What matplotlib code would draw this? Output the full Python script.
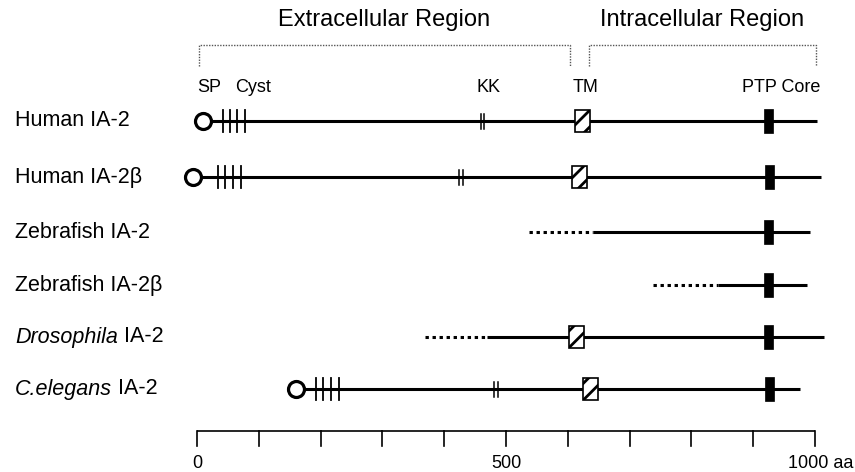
import matplotlib
matplotlib.use("Agg")
import matplotlib.pyplot as plt
from matplotlib.patches import Rectangle
import numpy as np

plt.rcParams['font.family'] = ['Liberation Sans', 'DejaVu Sans']
plt.rcParams['hatch.linewidth'] = 2.0

# ---------------- data (amino-acid positions) ----------------
species_italic = ["", "", "", "", "Drosophila", "C.elegans"]
species_rest = ["Human IA-2", "Human IA-2\u03b2", "Zebrafish IA-2", "Zebrafish IA-2\u03b2", " IA-2", " IA-2"]
solid_start = [10, -6, 641, 843, 470, 160]
seq_end = [1003, 1010, 992, 987, 1015, 976]
dotted_start = [np.nan, np.nan, 537, 738, 369, np.nan]
sp_pos = [10, -6, np.nan, np.nan, np.nan, 160]
cyst_pos = [[42, 53, 65, 78], [34, 45, 58, 71], [], [], [], [193, 204, 217, 230]]
kk_pos = [[459, 465], [424, 430], [], [], [], [481, 487]]
tm_center = [623, 619, np.nan, np.nan, 614, 637]
ptp_center = [925, 926, 924, 924, 925, 926]
scale_ticks = list(range(0, 1001, 100))
scale_labels = {0: "0", 500: "500", 1000: "1000 aa"}
feature_labels = ["SP", "Cyst", "KK", "TM", "PTP Core"]
feature_label_x = [0, 90, 472, 629, 945]
region_labels = ["Extracellular Region", "Intracellular Region"]
region_spans = [(3, 603), (634, 1001)]

# ---------------- layout ----------------
W, H = 855, 472
fig = plt.figure(figsize=(W / 100, H / 100), dpi=100)
ax = fig.add_axes([0, 0, 1, 1])
px_per_aa = 0.618
x0px = 197
ax.set_xlim(-x0px / px_per_aa, (W - x0px) / px_per_aa)
ax.set_ylim(H, 0)
ax.axis('off')

row_y = [121, 177, 232, 285, 337, 389]
LW = 2.2
aa_per_px = 1 / px_per_aa

for i in range(6):
    y = row_y[i]
    # dotted (unknown) part
    if not np.isnan(dotted_start[i]):
        ax.plot([dotted_start[i], solid_start[i]], [y, y], color='black', lw=LW,
                linestyle=(0, (1.1, 1.2)), dash_capstyle='butt', zorder=2)
    ax.plot([solid_start[i], seq_end[i]], [y, y], color='black', lw=LW,
            solid_capstyle='butt', zorder=2)
    # signal peptide
    if not np.isnan(sp_pos[i]):
        ax.plot([sp_pos[i]], [y], marker='o', ms=11.5, mfc='white', mec='black',
                mew=2.3, zorder=4)
    # cysteines
    for c in cyst_pos[i]:
        ax.plot([c, c], [y - 11, y + 11], color='black', lw=1.3, zorder=3)
    # KK
    for k in kk_pos[i]:
        ax.plot([k, k], [y - 7.5, y + 7.5], color='black', lw=1.1, zorder=3)
    # TM
    if not np.isnan(tm_center[i]):
        w = 15 * aa_per_px
        ax.add_patch(Rectangle((tm_center[i] - w / 2, y - 11), w, 22,
                               facecolor='white', edgecolor='black', lw=1.2,
                               hatch='//', zorder=4))
    # PTP core
    w = 9 * aa_per_px
    ax.add_patch(Rectangle((ptp_center[i] - w / 2, y - 12), w, 24,
                           facecolor='black', edgecolor='black', lw=0.5, zorder=4))

# row labels
fig.canvas.draw()
renderer = fig.canvas.get_renderer()
label_x = (15 - x0px) / px_per_aa
for i in range(6):
    y = row_y[i]
    if species_italic[i]:
        t = ax.text(label_x, y, species_italic[i], fontsize=15.5, style='italic',
                    va='center', ha='left')
        bb = t.get_window_extent(renderer=renderer)
        x_end = ax.transData.inverted().transform((bb.x1, bb.y0))[0]
        ax.text(x_end, y, species_rest[i], fontsize=15.5, va='center', ha='left')
    else:
        ax.text(label_x, y, species_rest[i], fontsize=15.5, va='center', ha='left')

# feature labels
for lab, fx in zip(feature_labels, feature_label_x):
    ha = 'left' if lab == "SP" else 'center'
    ax.text(fx, 87, lab, fontsize=13, ha=ha, va='center')

# region brackets and labels
for lab, (a, b) in zip(region_labels, region_spans):
    ax.plot([a, a, b, b], [66, 45, 45, 66], color='#555555', lw=1.0,
            linestyle=(0, (1, 1)))
    ax.text((a + b) / 2, 20, lab, fontsize=17, ha='center', va='center')

# scale bar
ax.plot([0, 1000], [431, 431], color='black', lw=1.2, solid_capstyle='butt')
for t in scale_ticks:
    ax.plot([t, t], [431, 446], color='black', lw=1.2)
for t, s in scale_labels.items():
    if s.endswith("aa"):
        ax.text(t - 44, 463, s, fontsize=13, ha='left', va='center')
    else:
        ax.text(t, 463, s, fontsize=13, ha='center', va='center')

fig.savefig("out.png", dpi=100)
